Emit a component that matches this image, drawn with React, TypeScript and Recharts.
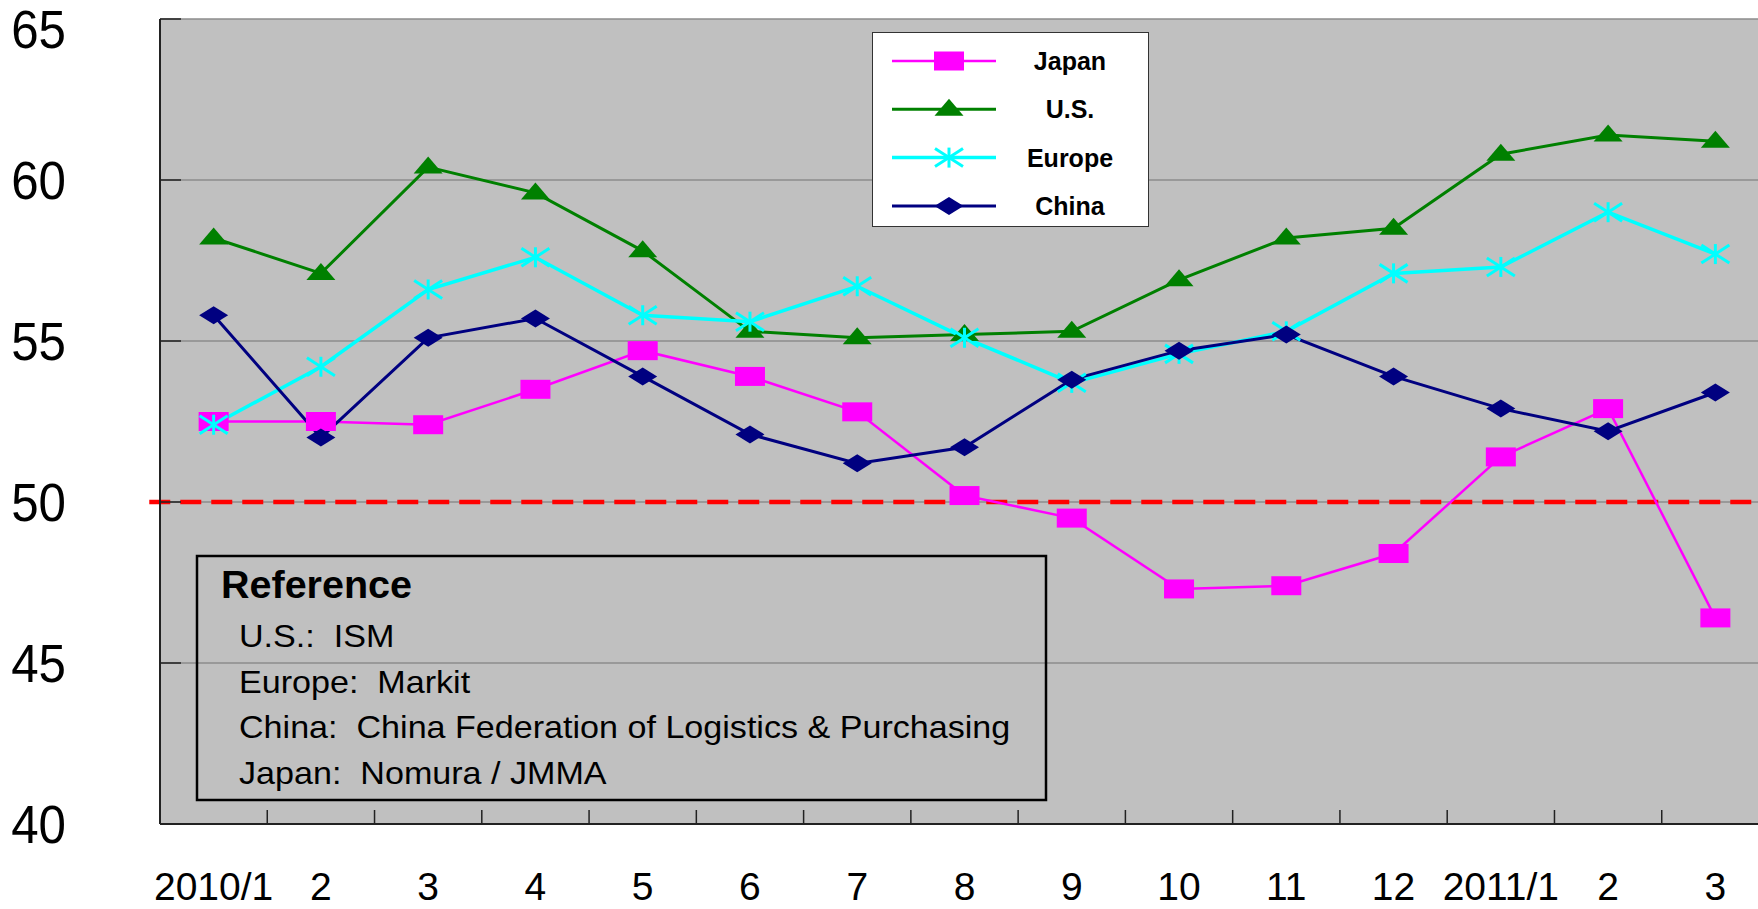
import React from "react";
import { LineChart, Line, XAxis, YAxis, CartesianGrid, ReferenceLine, Legend } from "recharts";

const months = ["2010/1", "2", "3", "4", "5", "6", "7", "8", "9", "10", "11", "12", "2011/1", "2", "3"];
const japan = [52.5, 52.5, 52.4, 53.5, 54.7, 53.9, 52.8, 50.2, 49.5, 47.3, 47.4, 48.4, 51.4, 52.9, 46.4];
const us = [58.2, 57.1, 60.4, 59.6, 57.8, 55.3, 55.1, 55.2, 55.3, 56.9, 58.2, 58.5, 60.8, 61.4, 61.2];
const europe = [52.4, 54.2, 56.6, 57.6, 55.8, 55.6, 56.7, 55.1, 53.7, 54.6, 55.3, 57.1, 57.3, 59.0, 57.7];
const china = [55.8, 52.0, 55.1, 55.7, 53.9, 52.1, 51.2, 51.7, 53.8, 54.7, 55.2, 53.9, 52.9, 52.2, 53.4];
const yTicks = [40, 45, 50, 55, 60, 65];

const series = [
  { key: "japan", name: "Japan", color: "#FF00FF", shape: "square", width: 2.5 },
  { key: "us", name: "U.S.", color: "#008000", shape: "triangle", width: 3 },
  { key: "europe", name: "Europe", color: "#00FFFF", shape: "asterisk", width: 3.5 },
  { key: "china", name: "China", color: "#000080", shape: "diamond", width: 3 },
];

const notes = ["U.S.:  ISM", "Europe:  Markit", "China:  China Federation of Logistics & Purchasing", "Japan:  Nomura / JMMA"];

// x is the middle of each month slot, so boundary ticks fall on whole numbers
const data = months.map((m, i) => ({
  x: i + 0.5,
  month: m,
  japan: japan[i],
  us: us[i],
  europe: europe[i],
  china: china[i],
}));

const xTicks = months.flatMap((_, i) => [i + 0.5, i + 1]);

const FONT = "'Liberation Sans', Arial, sans-serif";

function Marker({ shape, cx, cy, color }) {
  if (shape === "square") {
    return <rect x={cx - 15} y={cy - 9.5} width={30} height={19} fill={color} />;
  }
  if (shape === "triangle") {
    return <polygon points={`${cx},${cy - 10.5} ${cx + 14.5},${cy + 6.5} ${cx - 14.5},${cy + 6.5}`} fill={color} />;
  }
  if (shape === "diamond") {
    return <polygon points={`${cx},${cy - 9} ${cx + 14.5},${cy} ${cx},${cy + 9} ${cx - 14.5},${cy}`} fill={color} />;
  }
  return (
    <g stroke={color} strokeWidth={3}>
      <line x1={cx - 14} y1={cy - 9} x2={cx + 14} y2={cy + 9} />
      <line x1={cx - 14} y1={cy + 9} x2={cx + 14} y2={cy - 9} />
      <line x1={cx} y1={cy - 10} x2={cx} y2={cy + 10} />
    </g>
  );
}

const YTick = ({ x, y, payload }) => {
  const shift = payload.value === 65 ? 10 : 0;
  return (
    <text
      transform={`translate(${x},${y + shift + 19}) scale(0.93,1)`}
      textAnchor="end"
      fontSize={53}
      fontFamily={FONT}
      fill="#000"
    >
      {payload.value}
    </text>
  );
};

const XTick = ({ x, y, payload }) => {
  const v = payload.value;
  if (Number.isInteger(v)) {
    return <line x1={x} x2={x} y1={y} y2={y - 14} stroke="#222" strokeWidth={1.5} />;
  }
  return (
    <text x={x} y={y + 76} textAnchor="middle" fontSize={39} fontFamily={FONT} fill="#000">
      {months[Math.floor(v)]}
    </text>
  );
};

const LegendBox = ({ payload }) => {
  const keys = (payload || []).map((p) => p.dataKey);
  const rows = series.filter((s) => keys.includes(s.key));
  return (
    <div style={{ background: "#fff", border: "1.5px solid #333", width: 275, height: 193 }}>
      <svg width={275} height={193} style={{ display: "block" }}>
        {rows.map((s, i) => {
          const cy = 28 + i * 48.3;
          return (
            <g key={s.key}>
              <line x1={19} x2={123} y1={cy} y2={cy} stroke={s.color} strokeWidth={s.width} />
              <Marker shape={s.shape} cx={76} cy={cy} color={s.color} />
              <text x={197} y={cy + 9} textAnchor="middle" fontSize={25} fontWeight="bold" fontFamily={FONT} fill="#000">
                {s.name}
              </text>
            </g>
          );
        })}
      </svg>
    </div>
  );
};

export default function App() {
  return (
    <div style={{ position: "fixed", left: 0, top: 0, width: 1758, height: 909, overflow: "hidden", background: "#fff" }}>
      <LineChart width={1780} height={909} data={data} margin={{ top: 19, right: 11, bottom: 0, left: 0 }}>
        <CartesianGrid vertical={false} fill="#C0C0C0" fillOpacity={1} stroke="#8c8c8c" strokeWidth={1.5} />
        <XAxis
          dataKey="x"
          type="number"
          domain={[0, 15]}
          ticks={xTicks}
          interval={0}
          height={85}
          tickSize={0}
          tickMargin={0}
          tickLine={false}
          tick={XTick}
          axisLine={{ stroke: "#222", strokeWidth: 2 }}
        />
        <YAxis
          type="number"
          domain={[40, 65]}
          ticks={yTicks}
          interval={0}
          width={160}
          tickSize={-21}
          tickMargin={115}
          tickLine={{ stroke: "#222", strokeWidth: 1.5 }}
          tick={YTick}
          axisLine={{ stroke: "#222", strokeWidth: 2 }}
        />
        <ReferenceLine
          segment={[{ x: -0.1, y: 50 }, { x: 15, y: 50 }]}
          ifOverflow="visible"
          stroke="#FF0000"
          strokeWidth={4.5}
          strokeDasharray="21 10"
        />
        {series.map((s) => (
          <Line
            key={s.key}
            type="linear"
            dataKey={s.key}
            name={s.name}
            stroke={s.color}
            strokeWidth={s.width}
            isAnimationActive={false}
            activeDot={false}
            dot={(p) => <Marker key={`${s.key}-${p.index}`} shape={s.shape} cx={p.cx} cy={p.cy} color={s.color} />}
          />
        ))}
        <Legend
          layout="vertical"
          align="center"
          verticalAlign="middle"
          content={LegendBox}
          wrapperStyle={{ left: 872, top: 32, width: 278, height: 196 }}
        />
      </LineChart>
      <svg width={1758} height={909} style={{ position: "absolute", left: 0, top: 0, pointerEvents: "none" }}>
        <rect x={197} y={556} width={849} height={244} fill="none" stroke="#000" strokeWidth={2.5} />
        <text transform="translate(221,598) scale(1.04,1)" fontSize={38} fontWeight="bold" fontFamily={FONT} fill="#000">
          Reference
        </text>
        {notes.map((t, i) => (
          <text
            key={t}
            transform={`translate(239,${647 + i * 45.7}) scale(1.1,1)`}
            fontSize={31}
            fontFamily={FONT}
            fill="#000"
            style={{ whiteSpace: "pre" }}
          >
            {t}
          </text>
        ))}
      </svg>
    </div>
  );
}
